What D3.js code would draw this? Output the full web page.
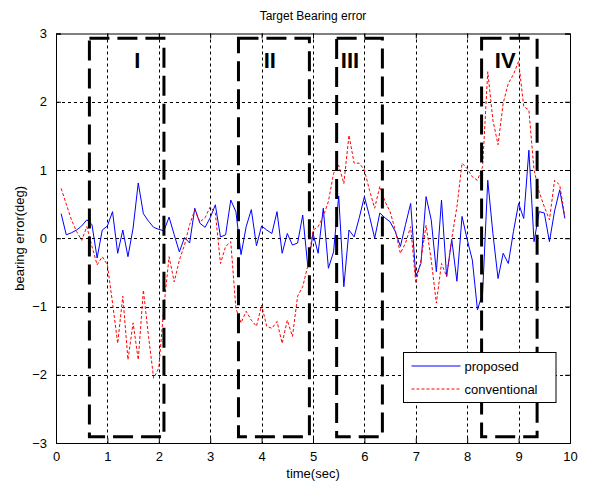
<!DOCTYPE html>
<html>
<head>
<meta charset="utf-8">
<script src="https://cdn.jsdelivr.net/npm/d3@7"></script>
<style>
  body { margin: 0; background: #fff; }
  svg text { font-family: "Liberation Sans", Arial, sans-serif; fill: #000; }
</style>
</head>
<body>
<div id="chart"></div>
<script>
// time axis samples, 0.1 .. 9.9 sec
var times = d3.range(1, 100).map(function(i){ return i / 10; });

// bearing error (deg)
var proposed = [
  0.36, 0.05, 0.08, 0.12, 0.18, 0.27, 0.2, -0.29, 0.12, 0.18,
  0.39, -0.22, 0.12, -0.27, 0.15, 0.81, 0.36, 0.25, 0.16, 0.13,
  0.11, 0.31, 0.05, -0.2, 0.01, -0.07, 0.44, 0.22, 0.16, 0.3,
  0.49, 0.02, 0.05, 0.56, 0.39, -0.24, 0.17, 0.42, -0.11, 0.18,
  0.12, 0.07, 0.39, -0.22, 0.07, -0.1, -0.07, 0.34, -0.42, 0.07,
  -0.22, 0.44, -0.44, -0.2, 0.62, -0.71, 0.12, 0.02, 0.3, 0.61,
  0.32, 0.0, 0.37, 0.3, 0.24, 0.1, -0.12, 0.2, 0.51, -0.56,
  -0.37, 0.61, 0.27, -0.49, 0.56, -0.56, -0.02, -0.63, 0.32, -0.02,
  -0.32, -1.05, -0.8, 0.85, 0.07, -0.59, -0.22, -0.37, 0.1, 0.51,
  0.29, 1.29, -0.05, 0.39, 0.37, -0.05, 0.4, 0.71, 0.29
];
var conventional = [
  0.73, 0.5, 0.27, 0.1, -0.03, 0.17, -0.12, -0.39, -0.27, -0.39,
  -0.95, -1.54, -0.85, -1.78, -1.24, -1.78, -0.76, -1.44, -2.05, -1.9,
  -1.0, -0.27, -0.64, -0.32, -0.1, 0.2, 0.41, 0.24, 0.3, 0.46,
  0.37, -0.37, -0.12, -0.05, -1.03, -1.24, -1.07, -1.2, -1.29, -0.98,
  -1.29, -1.32, -1.22, -1.54, -1.2, -1.44, -0.85, -0.71, -0.4, 0.12,
  0.17, 0.32, 0.54, 0.95, 1.07, 0.8, 1.51, 1.1, 1.1, 1.0,
  0.7, 0.44, 0.76, 0.54, 0.39, 0.12, -0.22, -0.07, 0.17, -0.66,
  -0.32, 0.19, -0.32, -0.95, -0.37, -0.56, 0.0, 0.46, 1.1, 1.02,
  0.9, 0.85, 1.05, 2.44, 1.73, 1.37, 1.98, 2.27, 2.4, 2.59,
  1.93, 1.88, 1.0, 0.68, 0.46, 0.27, 0.85, 0.78, 0.32
];

var xTicks = d3.range(0, 11);
var yTicks = [-3, -2, -1, 0, 1, 2, 3];

// highlighted regions: [x0, x1, y0, y1] and label
var regionNames = ["I", "II", "III", "IV"];
var regionX0 = [0.65, 3.55, 5.46, 8.28];
var regionX1 = [2.1, 4.93, 6.35, 9.36];
var regionLabelX = [1.58, 4.16, 5.72, 8.74];
var regionTop = 2.93, regionBottom = -2.91, regionLabelY = 2.61;

var legendNames = ["proposed", "conventional"];

var W = 592, H = 488;
var margin = {left: 56, right: 22, top: 33.5, bottom: 45};

var svg = d3.select("#chart").append("svg")
  .attr("width", W).attr("height", H);

var x = d3.scaleLinear().domain([0, 10]).range([margin.left, W - margin.right]);
var y = d3.scaleLinear().domain([-3, 3]).range([H - margin.bottom, margin.top]);

// grid (dotted)
var grid = svg.append("g").attr("stroke", "#000").attr("stroke-width", 1)
  .attr("stroke-dasharray", "3,3");
grid.selectAll("line.gx").data(xTicks.slice(1, -1)).enter().append("line")
  .attr("x1", function(d){ return Math.round(x(d)) + 0.5; })
  .attr("x2", function(d){ return Math.round(x(d)) + 0.5; })
  .attr("y1", y(3)).attr("y2", y(-3));
grid.selectAll("line.gy").data(yTicks.slice(1, -1)).enter().append("line")
  .attr("y1", function(d){ return Math.round(y(d)) + 0.5; })
  .attr("y2", function(d){ return Math.round(y(d)) + 0.5; })
  .attr("x1", x(0)).attr("x2", x(10));

// axes with inward ticks
var xAxis = svg.append("g").attr("transform", "translate(0," + y(-3) + ")")
  .call(d3.axisBottom(x).tickValues(xTicks).tickSize(-5).tickPadding(9).tickFormat(d3.format("d")));
var xAxisTop = svg.append("g").attr("transform", "translate(0," + y(3) + ")")
  .call(d3.axisTop(x).tickValues(xTicks).tickSize(-5).tickFormat(""));
var yAxis = svg.append("g").attr("transform", "translate(" + x(0) + ",0)")
  .call(d3.axisLeft(y).tickValues(yTicks).tickSize(-5).tickPadding(9).tickFormat(d3.format("d")));
var yAxisR = svg.append("g").attr("transform", "translate(" + x(10) + ",0)")
  .call(d3.axisRight(y).tickValues(yTicks).tickSize(-5).tickFormat(""));
[xAxis, xAxisTop, yAxis, yAxisR].forEach(function(g){
  g.select(".domain").attr("stroke", "#000");
  g.selectAll(".tick line").attr("stroke", "#000");
  g.selectAll("text").style("font-size", "13px").attr("fill", "#000");
});

// series
var line = d3.line()
  .x(function(d, i){ return x(times[i]); })
  .y(function(d){ return y(d); });

svg.append("path").datum(proposed)
  .attr("fill", "none").attr("stroke", "#0000ff").attr("stroke-width", 1)
  .attr("d", line);
svg.append("path").datum(conventional)
  .attr("fill", "none").attr("stroke", "#ff0000").attr("stroke-width", 1)
  .attr("stroke-dasharray", "3,2")
  .attr("d", line);

// dashed boxes I..IV
var boxes = svg.append("g");
boxes.selectAll("rect").data(regionNames).enter().append("rect")
  .attr("x", function(d, i){ return x(regionX0[i]); })
  .attr("y", y(regionTop))
  .attr("width", function(d, i){ return x(regionX1[i]) - x(regionX0[i]); })
  .attr("height", y(regionBottom) - y(regionTop))
  .attr("fill", "none").attr("stroke", "#000").attr("stroke-width", 3)
  .attr("stroke-dasharray", "20,8");
boxes.selectAll("text").data(regionNames).enter().append("text")
  .attr("x", function(d, i){ return x(regionLabelX[i]); })
  .attr("y", y(regionLabelY))
  .attr("dy", "0.36em")
  .attr("text-anchor", "middle")
  .style("font-size", "22px").style("font-weight", "bold")
  .text(function(d){ return d; });

// legend
var lg = svg.append("g").attr("transform", "translate(403.5,352.5)");
lg.append("rect").attr("width", 152.5).attr("height", 50)
  .attr("fill", "#fff").attr("stroke", "#000").attr("stroke-width", 1);
var legendColor = ["#0000ff", "#ff0000"];
var legendDash = [null, "3,2"];
lg.selectAll("line").data(legendNames).enter().append("line")
  .attr("x1", 8).attr("x2", 57)
  .attr("y1", function(d, i){ return 13.5 + i * 23; })
  .attr("y2", function(d, i){ return 13.5 + i * 23; })
  .attr("stroke", function(d, i){ return legendColor[i]; })
  .attr("stroke-dasharray", function(d, i){ return legendDash[i]; });
lg.selectAll("text").data(legendNames).enter().append("text")
  .attr("x", 61)
  .attr("y", function(d, i){ return 13.5 + i * 23; })
  .attr("dy", "0.35em")
  .style("font-size", "13px")
  .text(function(d){ return d; });

// titles
svg.append("text").attr("x", (x(0) + x(10)) / 2).attr("y", 20)
  .attr("text-anchor", "middle").style("font-size", "12px")
  .text("Target Bearing error");
svg.append("text").attr("x", (x(0) + x(10)) / 2).attr("y", 478)
  .attr("text-anchor", "middle").style("font-size", "13px")
  .text("time(sec)");
svg.append("text")
  .attr("transform", "translate(24," + ((y(3) + y(-3)) / 2) + ") rotate(-90)")
  .attr("text-anchor", "middle").style("font-size", "13px")
  .text("bearing error(deg)");
</script>
</body>
</html>
